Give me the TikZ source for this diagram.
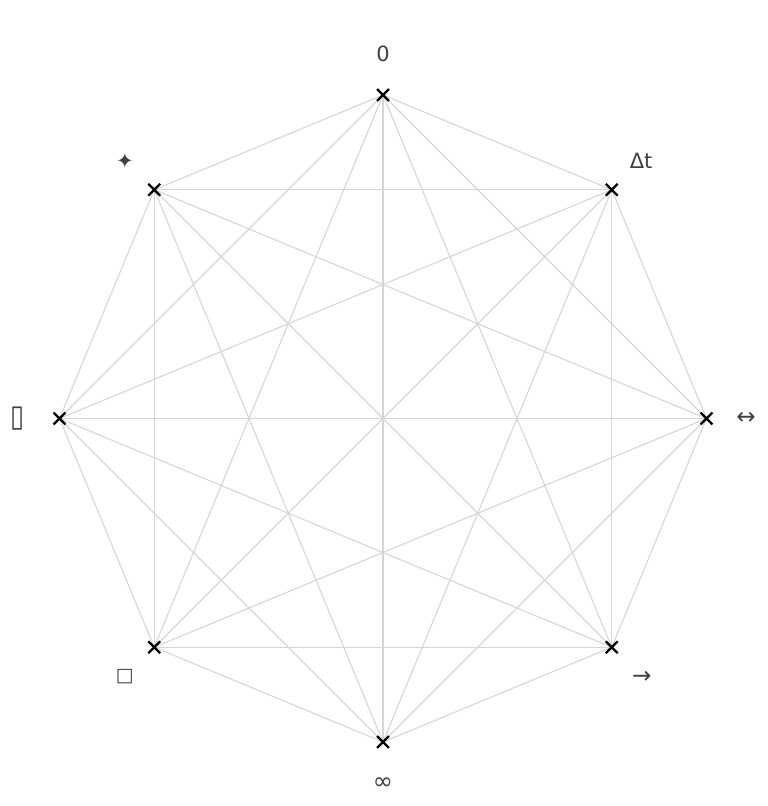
\documentclass[tikz,border=0pt]{standalone}
\usepackage{fontspec}
\setmainfont{DejaVu Sans}
\usetikzlibrary{shapes.misc,calc}
\definecolor{edgegray}{HTML}{D6D6D6}
\definecolor{labelgray}{HTML}{404040}
\tikzset{
  edge/.style={draw=edgegray, line width=1.1pt},
  marker/.style={cross out, draw=black, line width=2.3pt, minimum size=9.5pt, inner sep=0pt},
  lbl/.style={text=labelgray, font=\fontsize{21}{24}\selectfont, inner sep=0pt, anchor=center}
}
\begin{document}
\begin{tikzpicture}[x=1pt,y=1pt]
\useasboundingbox (0,0) rectangle (768,806);
\coordinate (c) at (383,387.5);
\foreach \k in {0,...,7}{
  \coordinate (p\k) at ($(c)+({90-45*\k}:323.5)$);
}
\foreach \i in {0,...,7}{
  \foreach \j in {0,...,7}{
    \ifnum\i<\j
      \draw[edge] (p\i) -- (p\j);
    \fi
  }
}
\foreach \k in {0,...,7}{
  \node[marker] (m\k) at (p\k) {};
}
\node[lbl] (l0) at ($(c)+(90:365)$) {0};
\node[lbl] (l1) at ($(c)+(45:365)$) {Δt};
\node[lbl, scale=1.1] (l2) at ($(c)+(0:363)$) {↔};
\node[lbl, scale=1.1] (l3) at ($(c)+(-45:366)$) {→};
\node[lbl, scale=1.15] (l4) at ($(c)+(-90:365)$) {∞};
\node[lbl, scale=0.9] (l5) at ($(c)+(-135:365)$) {□};
\node[lbl, xscale=1.22, yscale=1.45] (l6) at ($(c)+(180:365)$) {▯};
\node[lbl] (l7) at ($(c)+(135:365)$) {✦};
\end{tikzpicture}
\end{document}
